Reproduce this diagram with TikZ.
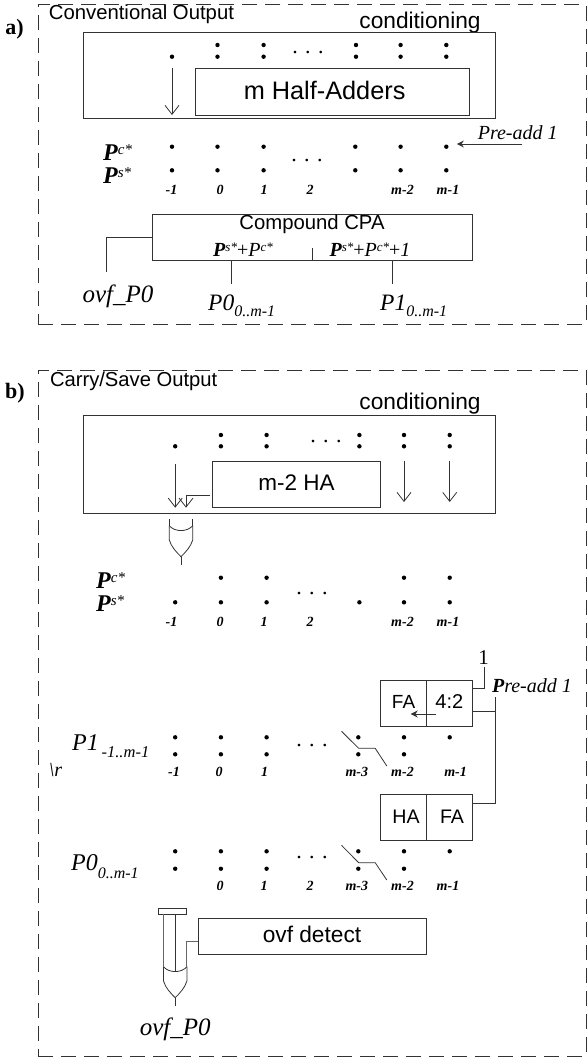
\documentclass[tikz,border=0pt]{standalone}
\usepackage{fontspec}
\usetikzlibrary{arrows.meta}
\setmainfont{Liberation Serif}
\newfontfamily\arialx{Liberation Sans}
\newcommand{\fsz}[1]{\fontsize{#1}{#1}\selectfont}
\newcommand{\PP}[4]{{\fsz{#1}\bfseries\itshape P}\raisebox{#3pt}{\fsz{#2}\itshape #4*}}
\newcommand{\PQ}[4]{{\fsz{#1}\itshape P}\raisebox{#3pt}{\fsz{#2}\itshape #4*}}
\newcommand{\boxn}[5]{\pgfmathsetmacro\bw{#4-#2}\pgfmathsetmacro\bh{#5-#3}\node[boxs,minimum width=\bw pt,minimum height=\bh pt] (#1) at ({(#2+#4)/2},{(#3+#5)/2}) {};}
\tikzset{
  x=1pt,y=-1pt,
  >={Straight Barb[length=9pt,width=14pt]},
  boxs/.style={draw=black!80,line width=1pt,inner sep=0,outer sep=0},
  wire/.style={draw=black!80,line width=1pt},
  thin wire/.style={draw=black!80,line width=.8pt},
  panel/.style={draw=black!80,line width=1pt,dash pattern=on 15pt off 8pt},
  bullet/.style={circle,fill=black,inner sep=0,minimum size=4.4pt,outer sep=0},
  sans/.style={font=\arialx\fsz{#1},inner sep=0},
  ser/.style={font=\fsz{#1},inner sep=0},
  ital/.style={font=\fsz{#1}\itshape,inner sep=0},
  idx/.style={font=\fsz{14}\bfseries\itshape,inner sep=0},
  ell/.style={font=\fsz{22},inner sep=0,anchor=base},
  orgate/.pic={
    \draw[thin wire] (-11.8,0) .. controls (-6,6.5) and (6,6.5) .. (11.8,0);
    \draw[thin wire] (-11.8,0) -- (-11.8,14) .. controls (-10,21) and (-4,27) .. (0,31)
      .. controls (4,27) and (10,21) .. (11.8,14) -- (11.8,0);
    \draw[thin wire] (0,31) -- (0,39);
  }
}
\begin{document}
\begin{tikzpicture}
\useasboundingbox (0,0) rectangle (587,1057);
% ---------- panel a
\node[boxs,panel,minimum width=548pt,minimum height=319.3pt] (panelA) at (312,164.35) {};
\node[font=\fsz{22}\bfseries,inner sep=0] (tagA) at (14.5,29) {a)};
\node[sans=20.3,anchor=west] (titleA) at (48.7,14.3) {Conventional Output};
\node[sans=22.7] (condlabA) at (420,22.3) {conditioning};
\boxn{condA}{83.5}{33}{495.5}{118.3}
\boxn{haA}{195}{68.7}{469}{115}
\node[sans=25.3] (haAt) at (324.6,90.7) {m Half-Adders};
\foreach \n/\x in {1/217.5,2/263.6,3/356,4/400.6,5/446.3}{
  \node[bullet] (at\n) at (\x,45) {};
  \node[bullet] (ab\n) at (\x,56.7) {};
}
\node[bullet] (ab0) at (172,56.7) {};
\node[ell] (elA1) at (308,53) {. . .};
\coordinate (arrA1) at (172,68.3);
\coordinate (arrA2) at (172,115);
\draw[thin wire,->] (arrA1) -- (arrA2);
\foreach \n/\x in {0/172,1/217.5,2/263.6,3/355.3,4/400.6,5/446.3}{
  \node[bullet] (pc\n) at (\x,146.7) {};
  \node[bullet] (ps\n) at (\x,170.3) {};
}
\node[ell] (elA2) at (307,161) {. . .};
\node[ital=20] (preA) at (517.7,132.7) {Pre-add 1};
\coordinate (preAs) at (521.6,144);
\coordinate (preAe) at (456.8,144);
\draw[wire,-{Stealth[length=7pt,width=7pt]}] (preAs) -- (preAe);
\node[anchor=base west,inner sep=0] (lpcA) at (103,160.7) {\PP{24}{15}{6}{c}};
\node[anchor=base west,inner sep=0] (lpsA) at (103,183.3) {\PP{24}{15}{6}{s}};
\foreach \n/\x/\t in {1/171.5/-1,2/220/0,3/264/1,4/310/2,5/402.5/m-2,6/448/m-1}{
  \node[idx] (ixA\n) at (\x,190.3) {\t};
}
\boxn{cpa}{152.4}{214}{472.5}{260}
\node[sans=20.3] (cpat) at (312,224) {Compound CPA};
\node[anchor=base,inner sep=0] (cpal) at (243,256) {\PP{20}{13}{5}{s}{\fsz{20}+}\PQ{20}{13}{5}{c}};
\node[anchor=base,inner sep=0] (cpar) at (370,256) {\PP{20}{13}{5}{s}{\fsz{20}+}\PQ{20}{13}{5}{c}{\fsz{20}+\itshape 1}};
\coordinate (tickA) at (312.6,248.3);
\draw[wire] (tickA) -- (tickA |- cpa.south);
\coordinate (ovfA) at (106.7,272);
\coordinate (ovfAc) at (106.7,237);
\draw[wire] (cpa.west |- ovfAc) -- (ovfAc) -- (ovfA);
\node[ital=25,anchor=base] (ovfAt) at (118,302.7) {ovf\_P0};
\coordinate (p0A) at (231.8,284);
\coordinate (p1A) at (392.8,284);
\draw[wire] (p0A |- cpa.south) -- (p0A);
\draw[wire] (p1A |- cpa.south) -- (p1A);
\node[anchor=base west,inner sep=0] (p0At) at (208,310) {{\fsz{23.5}\itshape P0}\raisebox{-6.5pt}{\fsz{16}\itshape 0..m-1}};
\node[anchor=base west,inner sep=0] (p1At) at (380,310) {{\fsz{23.5}\itshape P1}\raisebox{-6.5pt}{\fsz{16}\itshape 0..m-1}};
% ---------- panel b
\node[boxs,panel,minimum width=548pt,minimum height=686pt] (panelB) at (312,713) {};
\node[font=\fsz{22}\bfseries,inner sep=0] (tagB) at (15,393.3) {b)};
\node[sans=20.2,anchor=west] (titleB) at (49.8,381.7) {Carry/Save Output};
\node[sans=22.7] (condlabB) at (420,403.3) {conditioning};
\boxn{condB}{83.5}{415.7}{495.5}{513.3}
\boxn{haB}{212.3}{461.7}{380.8}{507.3}
\node[sans=22.5] (haBt) at (296.5,482.7) {m-2 HA};
\foreach \n/\x in {1/220.9,2/266.6,3/359.4,4/404,5/449.7}{
  \node[bullet] (bt\n) at (\x,435) {};
  \node[bullet] (bb\n) at (\x,446.3) {};
}
\node[bullet] (bb0) at (175.2,446.3) {};
\node[ell] (elB1) at (326,442) {. . .};
\coordinate (arrB1) at (175.2,464.3);
\coordinate (arrB2) at (175.2,507.7);
\coordinate (arrB3) at (404,461);
\coordinate (arrB4) at (404,502);
\coordinate (arrB5) at (449.7,461);
\coordinate (arrB6) at (449.7,502);
\draw[thin wire,->] (arrB1) -- (arrB2);
\draw[thin wire,->] (arrB3) -- (arrB4);
\draw[thin wire,->] (arrB5) -- (arrB6);
\coordinate (arrB7) at (186,495.7);
\coordinate (arrB8) at (186,507.7);
\draw[thin wire,->] (haB.west |- arrB7) ++(-2.5,0) -- (arrB7) -- (arrB8);
\pic (gateB) at (181,525.7) {orgate};
\coordinate (gBl) at (169.2,519);
\coordinate (gBr) at (192.8,519);
\coordinate (gBle) at (169.2,525.7);
\coordinate (gBre) at (192.8,525.7);
\draw[thin wire] (gBl) -- (gBle);
\draw[thin wire] (gBr) -- (gBre);
\foreach \n/\x in {1/220.9,2/266.6,4/404,5/449.7}{\node[bullet] (qc\n) at (\x,577.7) {};}
\foreach \n/\x in {0/175.2,1/220.9,2/266.6,3/359.4,4/404,5/449.7}{\node[bullet] (qs\n) at (\x,602.3) {};}
\node[ell] (elB2) at (312,594) {. . .};
\node[anchor=base west,inner sep=0] (lpcB) at (96,588.3) {\PP{24}{15}{6}{c}};
\node[anchor=base west,inner sep=0] (lpsB) at (96,611.7) {\PP{24}{15}{6}{s}};
\foreach \n/\x/\t in {1/171.5/-1,2/220/0,3/264/1,4/310/2,5/402.5/m-2,6/448/m-1}{
  \node[idx] (ixB\n) at (\x,621.7) {\t};
}
% adders
\boxn{fa}{380.8}{680}{426.8}{726}
\boxn{fb}{426.8}{680}{472.5}{726}
\boxn{ha}{380.8}{794.7}{426.8}{840}
\boxn{fc}{426.8}{794.7}{472.5}{840}
\node[sans=19] (fat) at (403.6,701.7) {FA};
\node[sans=20] (fbt) at (449.3,701.7) {4:2};
\node[sans=19.6] (hat) at (406,816.7) {HA};
\node[sans=19.6] (fct) at (452,816.7) {FA};
\coordinate (cy1) at (436,714);
\coordinate (cy2) at (410.7,714);
\draw[thin wire,-{Stealth[length=7pt,width=7pt]}] (cy1) -- (cy2);
\node[ser=21] (one) at (483.7,657.3) {1};
\coordinate (oneb) at (484.5,666.7);
\coordinate (onec) at (484.5,688.7);
\draw[wire] (oneb) -- (onec) -- (fb.east |- onec);
\node[ital=20] (preB) at (532,685.7) {\textbf{P}re-add 1};
\coordinate (prebt) at (495.7,697.3);
\coordinate (prebm) at (495.7,711);
\coordinate (prebb) at (495.7,803.3);
\draw[wire] (prebt) -- (prebb) -- (fc.east |- prebb);
\draw[wire] (prebm) -- (fb.east |- prebm);
% P1 rows
\foreach \n/\x in {0/175.2,1/220.9,2/266.6,3/358.3,4/404,5/449.7}{\node[bullet] (rt\n) at (\x,737.3) {};}
\foreach \n/\x in {0/175.2,1/220.9,2/266.6,3/358.3,4/404}{\node[bullet] (rb\n) at (\x,754.3) {};}
\node[ell] (elB3) at (312,746) {. . .};
\coordinate (z1) at (341.5,731.3);
\coordinate (z2) at (358.7,748.3);
\coordinate (z3) at (375.2,748.3);
\coordinate (z4) at (386.8,766);
\draw[thin wire] (z1) -- (z2) -- (z3) -- (z4);
\foreach \n/\x/\t in {1/174/-1,2/219/0,3/264.7/1,4/356.8/m-3,5/402.5/m-2,6/455.6/m-1}{
  \node[idx] (ixC\n) at (\x,771.7) {\t};
}
\node[anchor=base west,inner sep=0] (p1B) at (72,750) {{\fsz{24}\itshape P1}\raisebox{-7.3pt}{\fsz{16.5}\itshape \,-1..m-1}};
\node[ital=20,anchor=west] (rB) at (48.7,770) {\textbackslash r};
% P0 rows
\foreach \n/\x in {0/175.2,1/220.9,2/266.6,3/358.3,4/404,5/449.7}{\node[bullet] (st\n) at (\x,851.3) {};}
\foreach \n/\x in {0/175.2,1/220.9,2/266.6,3/358.3,4/404}{\node[bullet] (sb\n) at (\x,868.7) {};}
\node[ell] (elB4) at (312,858) {. . .};
\coordinate (y1) at (341.5,845.3);
\coordinate (y2) at (358.7,862.7);
\coordinate (y3) at (375.2,862.7);
\coordinate (y4) at (386.8,880);
\draw[thin wire] (y1) -- (y2) -- (y3) -- (y4);
\foreach \n/\x/\t in {2/220/0,3/264/1,4/310/2,5/356.8/m-3,6/402.5/m-2,7/448/m-1}{
  \node[idx] (ixD\n) at (\x,886) {\t};
}
\node[anchor=base west,inner sep=0] (p0B) at (71,870.7) {{\fsz{24}\itshape P0}\raisebox{-8pt}{\fsz{16}\itshape 0..m-1}};
% ovf
\boxn{bar}{158.4}{908.7}{186.8}{914.3}
\boxn{ovfd}{198}{918.7}{426.8}{954.3}
\node[sans=22.7] (ovfdt) at (312,934.7) {ovf detect};
\pic (gateC) at (175.2,966.7) {orgate};
\coordinate (gCl) at (163.6,966.7);
\coordinate (gCm) at (175.2,971.5);
\coordinate (gCr) at (186.8,966.7);
\coordinate (gCc) at (186.8,941.7);
\draw[thin wire,draw=black!60] (gCl |- bar.south) -- (gCl);
\draw[thin wire] (gCm |- bar.south) -- (gCm);
\draw[thin wire,draw=black!60] (ovfd.west |- gCc) -- (gCc) -- (gCr);
\node[ital=25,anchor=base] (ovfBt) at (175.2,1035) {ovf\_P0};
\end{tikzpicture}
\end{document}
